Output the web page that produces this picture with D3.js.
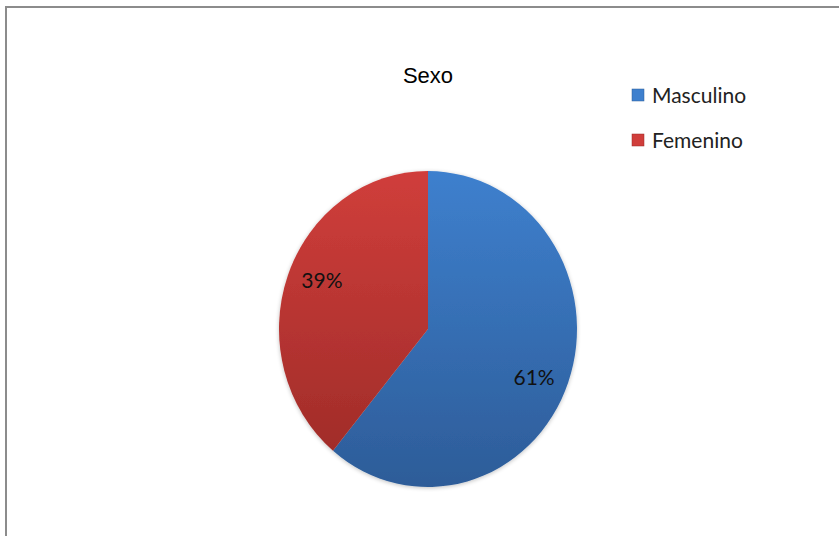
<!DOCTYPE html>
<html>
<head>
<meta charset="utf-8">
<script src="https://cdn.jsdelivr.net/npm/d3@7"></script>
<style>
  body { margin: 0; background: #fff; }
</style>
</head>
<body>
<svg width="839" height="536"></svg>
<script>
// data
var categories = ['Masculino', 'Femenino'];
var values = [61, 39];
var labels = ['61%', '39%'];
var colors = [['#3e80ce', '#2d5c98'], ['#d03e3b', '#9b2a27']];

var svg = d3.select('svg');

// chart frame
svg.append('rect')
    .attr('x', 6).attr('y', 7)
    .attr('width', 860).attr('height', 560)
    .attr('fill', 'none')
    .attr('stroke', '#8c8c8c')
    .attr('stroke-width', 2);

var defs = svg.append('defs');
colors.forEach(function(c, i) {
    var g = defs.append('linearGradient')
        .attr('id', 'grad' + i)
        .attr('gradientUnits', 'userSpaceOnUse')
        .attr('x1', 0).attr('y1', -150)
        .attr('x2', 0).attr('y2', 150);
    g.append('stop').attr('offset', '0%').attr('stop-color', c[0]);
    g.append('stop').attr('offset', '100%').attr('stop-color', c[1]);
});
var f = defs.append('filter').attr('id', 'shadow')
    .attr('x', '-10%').attr('y', '-10%').attr('width', '120%').attr('height', '120%');
f.append('feGaussianBlur').attr('in', 'SourceAlpha').attr('stdDeviation', 2);
f.append('feOffset').attr('dx', 0).attr('dy', 1).attr('result', 'b');
f.append('feComponentTransfer').append('feFuncA').attr('type', 'linear').attr('slope', 0.25);
var fm = f.append('feMerge');
fm.append('feMergeNode');
fm.append('feMergeNode').attr('in', 'SourceGraphic');

// title
svg.append('text')
    .attr('x', 428).attr('y', 83)
    .attr('text-anchor', 'middle')
    .attr('font-family', 'Liberation Sans, Arial, sans-serif')
    .attr('font-size', 22)
    .attr('fill', '#000')
    .text('Sexo');

var r = 149;
var pie = d3.pie().sort(null).value(function(d) { return d; });
var arc = d3.arc().innerRadius(0).outerRadius(r);
var arcs = pie(values);

var g = svg.append('g')
    .attr('transform', 'translate(428,329) scale(1,' + (158 / 149) + ')');

g.append('g').attr('filter', 'url(#shadow)')
  .selectAll('path')
    .data(arcs)
    .enter()
    .append('path')
    .attr('d', arc)
    .attr('fill', function(d, i) { return 'url(#grad' + i + ')'; });

// labels sit a bit past the mid angle, like the original
var shift = 3.5 * Math.PI / 180;
var labelArc = d3.arc().innerRadius(r * 0.775).outerRadius(r * 0.775);
g.selectAll('.lbl')
    .data(arcs)
    .enter()
    .append('text')
    .attr('class', 'lbl')
    .attr('transform', function(d) {
        var c = labelArc.centroid({startAngle: d.startAngle + shift, endAngle: d.endAngle + shift});
        return 'translate(' + c[0] + ',' + c[1] + ') scale(1,' + (149 / 158) + ')';
    })
    .attr('text-anchor', 'middle')
    .attr('dy', '0.35em')
    .attr('font-family', 'Lato, sans-serif')
    .attr('font-size', 21)
    .attr('fill', '#111')
    .text(function(d, i) { return labels[i]; });

// legend
var legend = svg.append('g').attr('transform', 'translate(632,89)');
var items = legend.selectAll('g')
    .data(categories)
    .enter()
    .append('g')
    .attr('transform', function(d, i) { return 'translate(0,' + (i * 45) + ')'; });
items.append('rect')
    .attr('width', 12).attr('height', 12)
    .attr('fill', function(d, i) { return colors[i][0]; })
    .attr('stroke', function(d, i) { return colors[i][1]; })
    .attr('stroke-width', 0.5);
items.append('text')
    .attr('x', 20).attr('y', 14)
    .attr('font-family', 'Lato, sans-serif')
    .attr('font-size', 21)
    .attr('fill', '#222')
    .text(function(d) { return d; });
</script>
</body>
</html>
